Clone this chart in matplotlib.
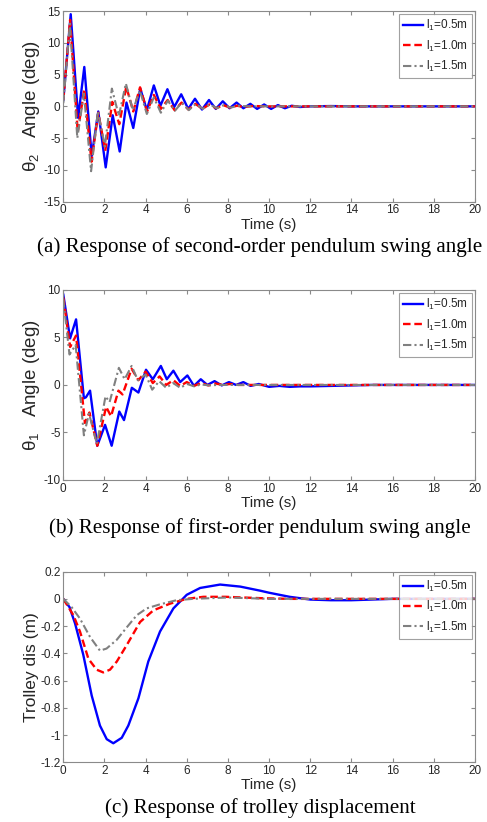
import matplotlib
matplotlib.use("Agg")
import matplotlib.pyplot as plt

# ---------------- data ----------------
labels = ["l$_1$=0.5m", "l$_1$=1.0m", "l$_1$=1.5m"]
time_ticks = [0, 2, 4, 6, 8, 10, 12, 14, 16, 18, 20]

# (a) second-order pendulum angle theta2 (deg)
a_t_05 = [0, 0.36, 0.72, 1.02, 1.38, 1.7, 2.06, 2.4, 2.74, 3.07, 3.4, 3.74, 4.06, 4.4, 4.72, 5.06,
          5.39, 5.73, 6.07, 6.4, 6.74, 7.08, 7.41, 7.75, 8.08, 8.42, 8.75, 9.09, 9.42, 9.76, 10.1,
          10.43, 10.77, 11.1, 11.5, 12, 13, 14, 15, 16, 20]
a_v_05 = [1.0, 14.5, -1.8, 6.2, -7.8, -0.8, -9.6, -1.4, -7.1, 0.6, -3.4, 2.8, -0.6, 3.3, 0.1, 2.7,
          -0.1, 1.9, -0.4, 1.2, -0.5, 1.0, -0.4, 0.8, -0.3, 0.6, -0.3, 0.4, -0.4, 0.3, -0.4,
          0.2, -0.3, 0.1, -0.1, 0.0, 0.05, 0.0, 0.0, 0.0, 0.0]
a_t_10 = [0, 0.33, 0.7, 1.02, 1.37, 1.7, 2.04, 2.38, 2.72, 3.06, 3.4, 3.73, 4.07, 4.4, 4.74, 5.07,
          5.41, 5.75, 6.08, 6.42, 6.76, 7.09, 7.43, 7.77, 8.1, 8.44, 8.78, 9.2, 10, 12, 14, 16, 20]
a_v_10 = [1.0, 13.6, -4.0, 2.7, -8.7, -1.0, -7.0, 0.7, -2.8, 3.1, -0.8, 3.0, -0.8, 1.8, -0.4, 1.0,
          -0.6, 0.6, -0.5, 0.4, -0.4, 0.3, -0.3, 0.2, -0.2, 0.1, -0.1, 0.05, 0.0, 0.0, 0.0, 0.0, 0.0]
a_t_15 = [0, 0.32, 0.68, 1.0, 1.35, 1.68, 2.02, 2.36, 2.7, 3.04, 3.38, 3.72, 4.06, 4.4, 4.74, 5.08,
          5.42, 5.76, 6.1, 6.44, 6.78, 7.12, 7.46, 7.8, 8.14, 8.48, 9.0, 10, 20]
a_v_15 = [0.5, 13.0, -5.0, 2.0, -10.2, -0.8, -6.3, 2.8, -1.5, 3.6, -0.6, 2.5, -1.2, 1.4, -1.0, 0.9,
          -0.7, 0.6, -0.6, 0.4, -0.4, 0.3, -0.3, 0.2, -0.2, 0.1, 0.0, 0.0, 0.0]

# (b) first-order pendulum angle theta1 (deg)
b_t_05 = [0, 0.33, 0.62, 1.0, 1.1, 1.3, 1.65, 2.03, 2.35, 2.72, 2.95, 3.33, 3.65, 4.02, 4.35, 4.74,
          5.03, 5.35, 5.68, 6.03, 6.35, 6.68, 7.0, 7.35, 7.7, 8.05, 8.4, 8.75, 9.1, 9.5, 10.0, 10.5,
          11, 11.5, 12, 13, 14, 15, 16, 20]
b_v_05 = [9.5, 4.9, 6.9, -1.4, -1.3, -0.6, -6.4, -4.2, -6.4, -2.8, -3.7, -0.3, -0.8, 1.6, 0.6, 2.0,
          0.6, 1.5, 0.3, 1.0, -0.1, 0.6, 0.0, 0.4, -0.05, 0.3, 0.0, 0.3, -0.1, 0.1, -0.2, -0.1,
          -0.2, -0.15, -0.15, -0.1, -0.05, 0.0, 0.0, 0.0]
b_t_10 = [0, 0.33, 0.62, 1.05, 1.27, 1.65, 2.08, 2.32, 2.68, 2.88, 3.32, 3.65, 4.0, 4.35, 4.68, 5.0,
          5.35, 5.68, 6.0, 6.35, 6.7, 7.05, 7.4, 7.75, 8.1, 8.5, 9, 10, 20]
b_v_10 = [9.2, 4.0, 5.2, -4.0, -2.9, -6.4, -2.3, -3.3, -0.6, -1.0, 1.7, 0.5, 1.4, 0.2, 0.9, 0.0,
          0.5, -0.1, 0.3, -0.1, 0.2, -0.05, 0.15, 0.0, 0.1, 0.0, 0.0, 0.0, 0.0]
b_t_15 = [0, 0.3, 0.6, 1.0, 1.25, 1.63, 2.05, 2.25, 2.7, 2.98, 3.32, 3.62, 4.0, 4.32, 4.66, 5.0,
          5.34, 5.68, 6.02, 6.36, 6.7, 7.1, 7.5, 8, 9, 20]
b_v_15 = [9.0, 3.2, 4.2, -5.3, -3.0, -6.2, -1.2, -1.8, 1.8, 0.6, 2.0, 0.5, 1.1, -0.5, 0.4, -0.3,
          0.2, -0.3, 0.1, -0.15, 0.05, -0.05, 0.0, 0.0, 0.0, 0.0]

# (c) trolley displacement (m)
c_t_05 = [0, 0.3, 0.57, 0.97, 1.38, 1.78, 2.11, 2.43, 2.84, 3.16, 3.65, 4.13, 4.7, 5.35, 6.0, 6.65,
          7.62, 8.6, 9.57, 10.0, 11.0, 12.0, 13.0, 14.0, 15.0, 16.0, 20.0]
c_v_05 = [0, -0.06, -0.18, -0.41, -0.71, -0.93, -1.03, -1.06, -1.02, -0.93, -0.73, -0.46, -0.24,
          -0.07, 0.03, 0.08, 0.105, 0.09, 0.06, 0.045, 0.015, -0.005, -0.01, -0.01, -0.005, 0.0, 0.0]
c_t_10 = [0, 0.49, 0.81, 1.22, 1.62, 1.94, 2.27, 2.6, 3.08, 3.73, 4.38, 5.19, 5.99, 6.81, 7.9, 9.6,
          11, 20]
c_v_10 = [0, -0.12, -0.24, -0.44, -0.52, -0.54, -0.52, -0.46, -0.34, -0.17, -0.084, -0.035, 0.0,
          0.015, 0.015, 0.005, 0.0, 0.0]
c_t_15 = [0, 0.4, 0.81, 1.3, 1.78, 2.1, 2.6, 3.08, 3.57, 4.05, 4.7, 5.5, 6.3, 8, 10, 20]
c_v_15 = [0, -0.06, -0.145, -0.28, -0.38, -0.365, -0.30, -0.21, -0.12, -0.07, -0.04, -0.01, 0.0,
          0.01, 0.0, 0.0]

a_yticks = [-15, -10, -5, 0, 5, 10, 15]
b_yticks = [-10, -5, 0, 5, 10]
c_yticks = [-1.2, -1.0, -0.8, -0.6, -0.4, -0.2, 0.0, 0.2]
c_yticklabels = ["-1.2", "-1", "-0.8", "-0.6", "-0.4", "-0.2", "0", "0.2"]

captions = ["(a) Response of second-order pendulum swing angle",
            "(b) Response of first-order pendulum swing angle",
            "(c) Response of trolley displacement"]

# ---------------- style ----------------
plt.rcParams["font.family"] = ["Liberation Sans", "DejaVu Sans"]
plt.rcParams["mathtext.fontset"] = "custom"
plt.rcParams["mathtext.rm"] = "Liberation Sans"
plt.rcParams["mathtext.it"] = "Liberation Sans:italic"
plt.rcParams["axes.unicode_minus"] = False

spine_col = "#8a8a8a"
text_col = "#262626"
styles = [dict(color="#0000ff", ls="-", lw=1.7),
          dict(color="#ff0000", ls=(0, (3.2, 1.6)), lw=1.7),
          dict(color="#808080", ls=(0, (4, 1.5, 1, 1.5)), lw=1.5)]

fig = plt.figure(figsize=(4.87, 8.22), dpi=100)

rects = [(0.130, 0.7546, 0.845, 0.232),
         (0.130, 0.4161, 0.845, 0.2312),
         (0.130, 0.0726, 0.845, 0.232)]
series = [[(a_t_05, a_v_05), (a_t_10, a_v_10), (a_t_15, a_v_15)],
          [(b_t_05, b_v_05), (b_t_10, b_v_10), (b_t_15, b_v_15)],
          [(c_t_05, c_v_05), (c_t_10, c_v_10), (c_t_15, c_v_15)]]
ylims = [(-15, 15), (-10, 10), (-1.2, 0.2)]
yticks = [a_yticks, b_yticks, c_yticks]
ylabels = ["θ$_2$   Angle (deg)", "θ$_1$   Angle (deg)", "Trolley dis (m)"]
cap_y = [247, 528, 808]

for i in range(3):
    ax = fig.add_axes(rects[i])
    for (t, v), st, lab in zip(series[i], styles, labels):
        ax.plot(t, v, label=lab, **st)
    ax.set_xlim(0, 20)
    ax.set_ylim(*ylims[i])
    ax.set_xticks(time_ticks)
    ax.set_yticks(yticks[i])
    if i == 2:
        ax.set_yticklabels(c_yticklabels)
    for s in ax.spines.values():
        s.set_color(spine_col)
        s.set_linewidth(0.8)
    ax.tick_params(direction="in", top=True, right=True, length=3, width=0.8,
                   color=spine_col, labelcolor=text_col, labelsize=8.5, pad=2)
    ax.set_xlabel("Time (s)", fontsize=11, color=text_col, labelpad=1)
    ax.set_ylabel(ylabels[i], fontsize=13.5 if i < 2 else 12.5, color=text_col, labelpad=1)
    leg = ax.legend(loc="upper right", fontsize=8.5, frameon=True, fancybox=False,
                    borderaxespad=0.25, handlelength=1.65, handletextpad=0.25,
                    labelspacing=0.45, borderpad=0.35)
    leg.get_frame().set_edgecolor(spine_col)
    leg.get_frame().set_linewidth(0.8)
    for txt in leg.get_texts():
        txt.set_color(text_col)
    fig.text(260 / 487, 1 - cap_y[i] / 822, captions[i], ha="center", va="center",
             fontsize=15.2, family=["Liberation Serif", "DejaVu Serif"], color="black")

fig.savefig("out.png", dpi=100)
